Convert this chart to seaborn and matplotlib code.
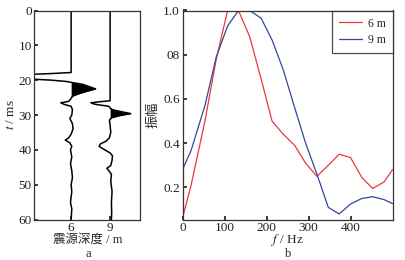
import numpy as np
import pandas as pd
import matplotlib
matplotlib.use("Agg")
import matplotlib.pyplot as plt
import seaborn as sns

# ---------------- data ----------------
# panel a: seismic traces (time in ms, amplitude in trace units)
t6 = [0, 17.8, 18.1, 18.4, 19.0, 19.6, 20.0, 20.4, 20.7, 21.2, 22.0, 22.5, 23.2, 24.0, 24.6,
      25.5, 26.1, 26.5, 27.0, 27.5, 28.5, 30, 31, 32.5, 34, 35.5, 36.6, 37.2, 38, 39, 40,
      42, 44, 46, 48, 50, 52, 55, 57, 60]
a6 = [0, 0, -1.5, -3.5, -4.5, -3.5, -1.5, -0.3, 0.1, 0.9, 1.5, 1.88, 1.2, 0.5, 0.1,
      -0.05, -0.2, -0.8, -0.5, 0.0, 0.1, 0.05, -0.1, 0.1, 0.15, 0.0, -0.2, -0.45, -0.1, 0.05, -0.05,
      0.05, -0.05, 0.05, 0.1, 0.0, 0.05, -0.05, 0.05, 0.0]
t9 = [0, 25.9, 26.2, 26.5, 26.9, 27.5, 28, 28.5, 29.0, 29.6, 30.2, 30.8, 31.5, 33, 35, 36.5,
      37.5, 38.3, 39, 39.8, 40.9, 41.7, 43, 44.5, 45.3, 46, 47, 49, 52, 55, 58, 60]
a9 = [0, 0, -0.8, -1.48, -1.2, -0.1, 0, 0.2, 0.8, 1.59, 0.7, 0.1, -0.05, 0.0, 0.05, -0.05,
      -0.3, -0.75, -0.85, -0.5, 0.0, 0.18, 0.15, 0.05, -0.25, -0.1, 0.1, 0.05, 0.15, 0.1, 0.12, 0.1]
depths = [6, 9]
lobe6 = (20.5, 25.0)   # filled main lobe windows (ms)
lobe9 = (28.2, 31.2)

# panel b: amplitude spectra
freq = [0, 20, 53, 80, 107, 133, 160, 187, 213, 240, 267, 293, 320, 347, 373, 400, 427, 453, 480, 500]
amp6 = [0.065, 0.21, 0.5, 0.78, 1.0, 1.0, 0.88, 0.69, 0.5, 0.44, 0.39, 0.31, 0.25, 0.30, 0.35,
        0.335, 0.245, 0.195, 0.225, 0.28]
amp9 = [0.283, 0.367, 0.57, 0.79, 0.93, 1.0, 1.0, 0.965, 0.867, 0.73, 0.56, 0.40, 0.26, 0.11,
        0.08, 0.125, 0.15, 0.158, 0.145, 0.127]
series_names = ["6 m", "9 m"]
yticks_b = [0.2, 0.4, 0.6, 0.8, 1.0]
yticklabels_b = ["0.2", "0.4", "0.6", "08", "1.0"]
xticks_b = [0, 100, 200, 300, 400]

# ---------------- style ----------------
sns.set_theme(style="ticks")
plt.rcParams["font.family"] = ["Liberation Serif", "Noto Sans CJK SC"]
plt.rcParams["mathtext.fontset"] = "stix"
plt.rcParams["axes.linewidth"] = 0.9
plt.rcParams["axes.edgecolor"] = "#333333"
plt.rcParams["xtick.direction"] = "in"
plt.rcParams["ytick.direction"] = "in"
plt.rcParams["xtick.major.size"] = 3
plt.rcParams["ytick.major.size"] = 3
plt.rcParams["xtick.major.pad"] = 2
plt.rcParams["ytick.major.pad"] = 2

FS = 9.5
fig = plt.figure(figsize=(4.06, 2.60), dpi=100)
axa = fig.add_axes([34.5 / 406, 1 - 219.5 / 260, 105.5 / 406, 209 / 260])
axb = fig.add_axes([182.7 / 406, 1 - 219.5 / 260, 210.6 / 406, 209 / 260])

# ---------------- panel a ----------------
for d, tt, aa, lobe in [(6, t6, a6, lobe6), (9, t9, a9, lobe9)]:
    tt = np.array(tt, dtype=float)
    xx = d + np.array(aa, dtype=float)
    df = pd.DataFrame({"x": xx, "t": tt})
    sns.lineplot(data=df, x="x", y="t", sort=False, estimator=None, ax=axa,
                 color="black", lw=1.1)
    axa.fill_betweenx(tt, d, xx, where=(xx > d) & (tt >= lobe[0]) & (tt <= lobe[1]),
                      interpolate=True, color="black", lw=0)

axa.set_xlim(3.18, 11.3)
axa.set_ylim(60, 0)
axa.set_yticks([0, 10, 20, 30, 40, 50, 60])
axa.set_xticks(depths)
axa.tick_params(labelsize=FS, colors="#222222")
axa.set_xlabel("")
axa.set_ylabel(r"$t$ / ms", fontsize=FS, labelpad=1)

# ---------------- panel b ----------------
dfb = pd.DataFrame({
    "f": freq + freq,
    "amp": amp6 + amp9,
    "depth": [series_names[0]] * len(freq) + [series_names[1]] * len(freq),
})
sns.lineplot(data=dfb, x="f", y="amp", hue="depth", palette=["#e8383f", "#33489a"],
             sort=False, estimator=None, ax=axb, lw=0.9)
axb.set_xlim(0, 502)
axb.set_ylim(0.055, 1.0)
axb.set_xticks(xticks_b)
axb.set_yticks(yticks_b)
axb.set_yticklabels(yticklabels_b)
axb.tick_params(labelsize=FS, colors="#222222")
axb.set_xlabel("")
axb.set_ylabel("振幅", fontsize=FS, labelpad=3)
leg = axb.legend(loc="upper right", fontsize=8.5, frameon=True, fancybox=False,
                 edgecolor="#222222", borderaxespad=0, handlelength=2.0,
                 borderpad=0.6, labelspacing=0.35, handletextpad=0.5, title=None)
leg.get_frame().set_linewidth(0.9)

# axis titles and panel letters
fig.text(88 / 406, 1 - 239.5 / 260, "震源深度 / m", ha="center", va="center", fontsize=9)
fig.text(288 / 406, 1 - 239.5 / 260, r"$f$ / Hz", ha="center", va="center", fontsize=FS)
fig.text(88 / 406, 1 - 254 / 260, "a", ha="center", va="center", fontsize=9)
fig.text(288 / 406, 1 - 254 / 260, "b", ha="center", va="center", fontsize=9)

fig.savefig("out.png", dpi=100)
